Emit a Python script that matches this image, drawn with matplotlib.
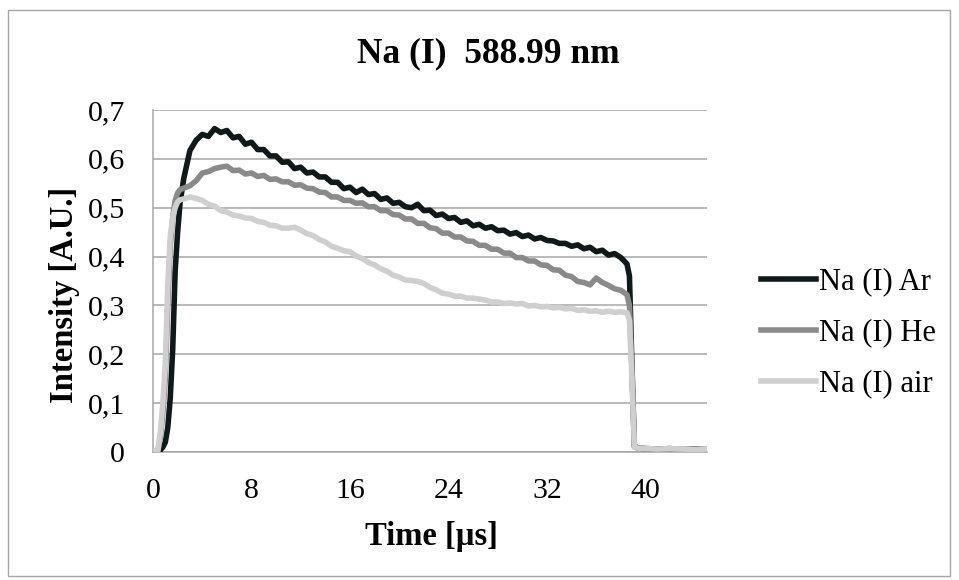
import matplotlib
matplotlib.use('Agg')
import matplotlib.pyplot as plt
from matplotlib.patches import Rectangle

plt.rcParams['font.family'] = ['Liberation Serif', 'DejaVu Serif']

# ── data ──────────────────────────────────────────────────────────────────────
# time base [µs]: onset, plateau (0.5 µs steps), cut-off and tail
time_us = [0.0, 0.4, 0.6, 0.8, 1.0, 1.2, 1.4, 1.6, 1.8, 2.0, 2.2,
           2.5, 3.0, 3.5, 4.0, 4.5, 5.0, 5.5, 6.0, 6.5, 7.0,
           7.5, 8.0, 8.5, 9.0, 9.5, 10.0, 10.5, 11.0, 11.5, 12.0,
           12.5, 13.0, 13.5, 14.0, 14.5, 15.0, 15.5, 16.0, 16.5, 17.0,
           17.5, 18.0, 18.5, 19.0, 19.5, 20.0, 20.5, 21.0, 21.5, 22.0,
           22.5, 23.0, 23.5, 24.0, 24.5, 25.0, 25.5, 26.0, 26.5, 27.0,
           27.5, 28.0, 28.5, 29.0, 29.5, 30.0, 30.5, 31.0, 31.5, 32.0,
           32.5, 33.0, 33.5, 34.0, 34.5, 35.0, 35.5, 36.0, 36.5, 37.0,
           37.5, 38.0, 38.5,
           38.7, 38.9, 39.1, 39.4, 40.0, 41.0, 42.0, 43.0, 44.0, 45.0]

na_ar = [0.000, 0.002, 0.004, 0.010, 0.020, 0.050, 0.110, 0.210, 0.370, 0.450, 0.510,
         0.560, 0.617, 0.638, 0.650, 0.646, 0.662, 0.654, 0.658, 0.643, 0.646,
         0.630, 0.634, 0.619, 0.619, 0.606, 0.606, 0.593, 0.594, 0.580, 0.583,
         0.571, 0.573, 0.563, 0.563, 0.552, 0.552, 0.539, 0.542, 0.531, 0.538,
         0.527, 0.529, 0.517, 0.520, 0.509, 0.511, 0.502, 0.500, 0.507, 0.494,
         0.495, 0.484, 0.487, 0.478, 0.480, 0.470, 0.473, 0.463, 0.466, 0.458,
         0.461, 0.453, 0.454, 0.446, 0.449, 0.441, 0.444, 0.436, 0.439, 0.433,
         0.432, 0.427, 0.427, 0.421, 0.424, 0.416, 0.419, 0.410, 0.413, 0.403,
         0.406, 0.398, 0.385,
         0.360, 0.180, 0.012, 0.008, 0.007, 0.006, 0.007, 0.005, 0.006, 0.005]

na_he = [0.000, 0.002, 0.030, 0.080, 0.150, 0.300, 0.420, 0.480, 0.515, 0.530, 0.537,
         0.540, 0.545, 0.555, 0.571, 0.574, 0.580, 0.583, 0.585, 0.576, 0.577,
         0.569, 0.571, 0.564, 0.566, 0.558, 0.559, 0.553, 0.553, 0.546, 0.547,
         0.540, 0.539, 0.532, 0.531, 0.522, 0.522, 0.515, 0.515, 0.509, 0.510,
         0.502, 0.502, 0.494, 0.494, 0.486, 0.485, 0.477, 0.477, 0.468, 0.468,
         0.459, 0.457, 0.448, 0.448, 0.440, 0.440, 0.432, 0.431, 0.423, 0.423,
         0.415, 0.415, 0.407, 0.407, 0.398, 0.398, 0.391, 0.391, 0.383, 0.382,
         0.373, 0.372, 0.362, 0.359, 0.349, 0.347, 0.342, 0.356, 0.347, 0.341,
         0.334, 0.331, 0.322,
         0.300, 0.170, 0.010, 0.008, 0.007, 0.006, 0.006, 0.005, 0.006, 0.005]

na_air = [0.000, 0.004, 0.040, 0.100, 0.180, 0.340, 0.440, 0.480, 0.500, 0.512, 0.516,
          0.518, 0.522, 0.519, 0.515, 0.507, 0.503, 0.494, 0.491, 0.485, 0.483,
          0.479, 0.478, 0.472, 0.470, 0.464, 0.463, 0.458, 0.458, 0.460, 0.454,
          0.447, 0.443, 0.435, 0.430, 0.421, 0.417, 0.412, 0.410, 0.401, 0.396,
          0.388, 0.383, 0.375, 0.370, 0.362, 0.358, 0.352, 0.351, 0.349, 0.345,
          0.337, 0.332, 0.325, 0.323, 0.319, 0.319, 0.315, 0.315, 0.313, 0.311,
          0.307, 0.307, 0.304, 0.305, 0.303, 0.304, 0.299, 0.300, 0.297, 0.298,
          0.295, 0.296, 0.293, 0.294, 0.290, 0.291, 0.288, 0.289, 0.286, 0.288,
          0.286, 0.287, 0.285,
          0.270, 0.150, 0.010, 0.008, 0.007, 0.006, 0.007, 0.006, 0.005, 0.006]

series_labels = ['Na (I) Ar', 'Na (I) He', 'Na (I) air']
series_colors = ['#0f1919', '#8a8a8a', '#cfcfcf']

x_ticks = [0, 8, 16, 24, 32, 40]
y_ticks = [0.0, 0.1, 0.2, 0.3, 0.4, 0.5, 0.6, 0.7]
y_tick_labels = ['0', '0,1', '0,2', '0,3', '0,4', '0,5', '0,6', '0,7']

# ── figure ────────────────────────────────────────────────────────────────────
W, H = 959, 580
fig = plt.figure(figsize=(W / 100, H / 100), dpi=100)
fig.patch.set_facecolor('white')

# chart-area frame
fig.patches.append(Rectangle((8 / W, 4 / H), 942 / W, 566 / H,
                             transform=fig.transFigure, fill=False,
                             edgecolor='#a6a6a6', linewidth=1.0))

ax = fig.add_axes([153 / W, 1 - 452 / H, 554 / W, 342 / H])

for y, lab, col in zip([na_ar, na_he, na_air], series_labels, series_colors):
    ax.plot(time_us, y, color=col, linewidth=4.0, label=lab,
            solid_joinstyle='round', zorder=3)

ax.set_xlim(0, 45)
ax.set_ylim(0, 0.7)
ax.set_xticks(x_ticks)
ax.set_yticks(y_ticks)
ax.set_yticklabels(y_tick_labels)
ax.tick_params(length=0, labelsize=21.5, colors='black')
ax.tick_params(axis='x', pad=19)
ax.tick_params(axis='y', pad=20)

ax.grid(axis='y', color='#a6a6a6', linewidth=1.1)
ax.set_axisbelow(True)
for side in ['top', 'right']:
    ax.spines[side].set_visible(False)
for side in ['left', 'bottom']:
    ax.spines[side].set_color('#a6a6a6')
    ax.spines[side].set_linewidth(1.1)

ax.set_xlabel('Time [µs]', fontsize=23.5, fontweight='bold', va='center')
ax.xaxis.set_label_coords((431 - 153) / 554, (452 - 537) / 342)
ax.set_ylabel('Intensity [A.U.]', fontsize=23.5, fontweight='bold', va='center')
ax.yaxis.set_label_coords((64 - 153) / 554, (452 - 295) / 342)

fig.text(488 / W, 1 - 54 / H, 'Na (I)  588.99 nm', ha='center', va='center',
         fontsize=25.5, fontweight='bold')

fig.legend(loc='center left', bbox_to_anchor=(761 / W, 1 - 333 / H),
           frameon=False, fontsize=22, handlelength=1.8, handletextpad=0.1,
           labelspacing=0.72, borderpad=0, borderaxespad=0)

fig.savefig('out.png', dpi=100)
